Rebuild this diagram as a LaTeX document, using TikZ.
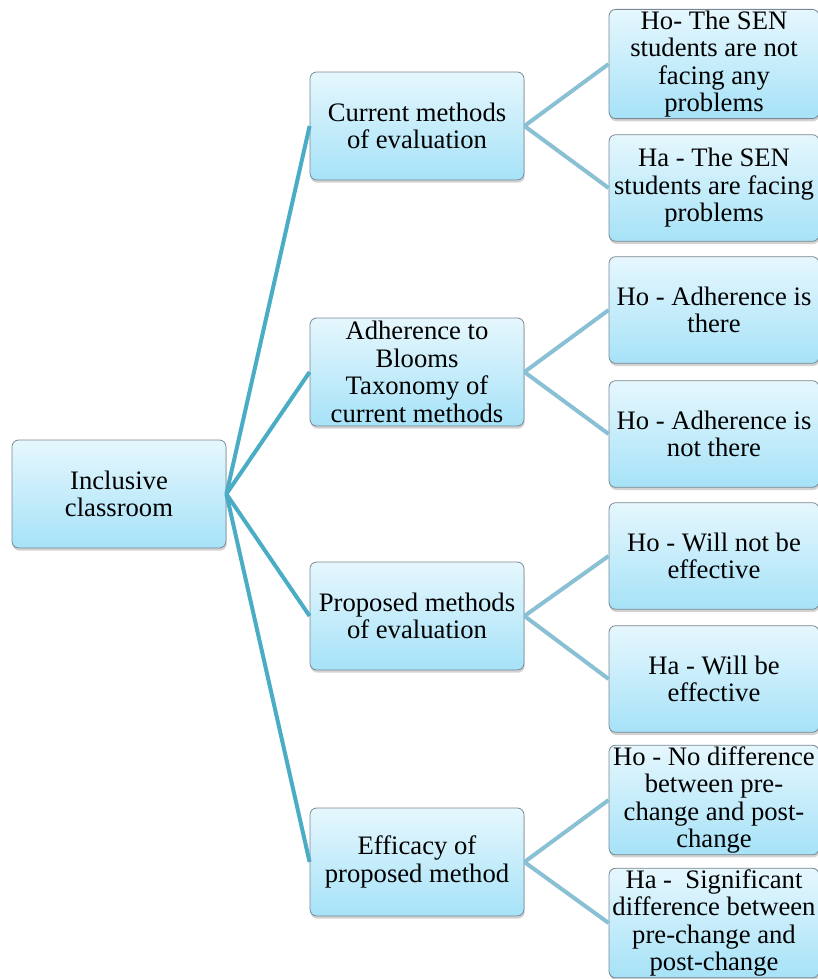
\documentclass[tikz,border=0pt]{standalone}
\usepackage{fontspec}
\setmainfont{Liberation Serif}
\usetikzlibrary{shadows}

\definecolor{boxtop}{RGB}{230,247,253}
\definecolor{boxbot}{RGB}{166,226,248}
\definecolor{boxline}{RGB}{120,135,145}
\definecolor{rootlink}{RGB}{75,172,198}
\definecolor{leaflink}{RGB}{138,192,212}

\tikzset{every picture/.style={line width=0.75pt}}
\tikzset{
  card/.style={draw=boxline, line width=0.6pt, rounded corners=5pt,
    top color=boxtop, bottom color=boxbot,
    drop shadow={shadow xshift=0.5pt, shadow yshift=-2pt, opacity=0.35},
    align=center, font=\fontsize{20}{20.6}\selectfont, inner sep=1pt},
  midcard/.style={card, minimum width=160.5pt, minimum height=81pt},
  leafcard/.style={card, minimum width=157.5pt, minimum height=80pt},
  rootlink/.style={draw=rootlink, line width=3pt},
  leaflink/.style={draw=leaflink, line width=3pt}
}

\begin{document}
\begin{tikzpicture}[x=0.75pt,y=0.75pt,yscale=-1,xscale=1]
	\useasboundingbox (0,0) rectangle (818,979);

	% Root
	\node [card, minimum width=160.5pt, minimum height=81pt] (incl) at (119,494) {Inclusive\\classroom};

	% Second level
	\node [midcard] (curr) at (417,126) {Current methods\\of evaluation};
	\node [midcard] (adhr) at (417,372) {Adherence to\\Blooms\\Taxonomy of\\current methods};
	\node [midcard] (prop) at (417,616) {Proposed methods\\of evaluation};
	\node [midcard] (effc) at (417,862) {Efficacy of\\proposed method};

	% Third level
	\node [leafcard] (currho) at (714,64) {Ho- The SEN\\students are not\\facing any\\problems};
	\node [leafcard] (currha) at (714,188) {Ha - The SEN\\students are facing\\problems};
	\node [leafcard] (adhrho) at (714,310) {Ho - Adherence is\\there};
	\node [leafcard] (adhrha) at (714,434) {Ho - Adherence is\\not there};
	\node [leafcard] (propho) at (714,556) {Ho - Will not be\\effective};
	\node [leafcard] (propha) at (714,679) {Ha - Will be\\effective};
	\node [leafcard] (effcho) at (714,800) {Ho - No difference\\between pre-\\change and post-\\change};
	\node [leafcard] (effcha) at (714,923) {Ha -\ \ Significant\\difference between\\pre-change and\\post-change};

	% Connectors from root
	\foreach \n in {curr,adhr,prop,effc}
		\draw [rootlink] (incl.east) -- (\n.west);

	% Connectors to leaves
	\foreach \n in {curr,adhr,prop,effc}{
		\draw [leaflink] (\n.east) -- (\n ho.west);
		\draw [leaflink] (\n.east) -- (\n ha.west);
	}
\end{tikzpicture}
\end{document}
